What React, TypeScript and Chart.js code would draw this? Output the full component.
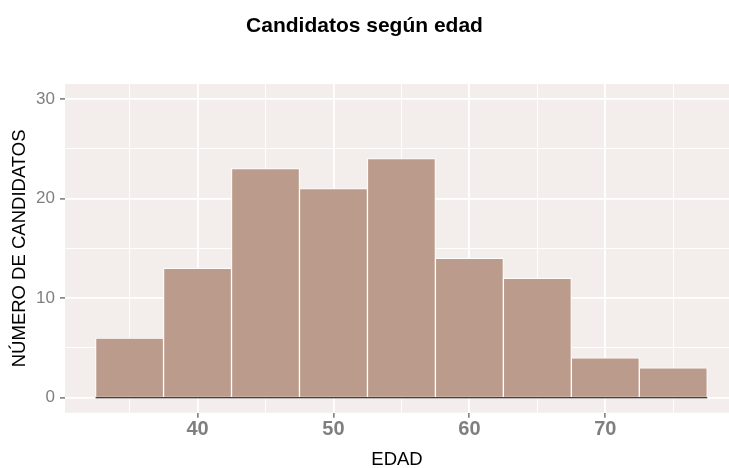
import React, { useEffect, useRef } from "react";
import { Chart, registerables } from "chart.js";

Chart.register(...registerables);

// Histogram data: bin centers (EDAD) and counts
const binCenters = [35, 40, 45, 50, 55, 60, 65, 70, 75];
const counts = [6, 13, 23, 21, 24, 14, 12, 4, 3];
const baseline = [
  { x: 32.5, y: 0 },
  { x: 77.5, y: 0 },
];
const xTicks = [35, 40, 45, 50, 55, 60, 65, 70, 75];
const xMajor = [40, 50, 60, 70];
const yTicks = [0, 5, 10, 15, 20, 25, 30];
const yMajor = [0, 10, 20, 30];

const FONT = "'Liberation Sans', Arial, Helvetica, sans-serif";
const PANEL_BG = "#F3EEEB";
const BAR_FILL = "#BB9B8B";

export default function App() {
  const ref = useRef<HTMLCanvasElement | null>(null);

  useEffect(() => {
    document.body.style.margin = "0";
    const canvas = ref.current;
    if (!canvas) return;

    const panelBg = {
      id: "panelBg",
      beforeDraw(chart: any) {
        const { ctx, chartArea } = chart;
        ctx.save();
        ctx.fillStyle = PANEL_BG;
        ctx.fillRect(chartArea.left, chartArea.top, chartArea.right - chartArea.left, chartArea.bottom - chartArea.top);
        ctx.restore();
      },
    };

    const chart = new Chart(canvas, {
      type: "bar",
      data: {
        datasets: [
          {
            type: "line",
            data: baseline,
            borderColor: "#000000",
            borderWidth: 1.2,
            pointRadius: 0,
            order: 0,
          } as any,
          {
            type: "bar",
            data: binCenters.map((c, i) => ({ x: c, y: counts[i] })),
            backgroundColor: BAR_FILL,
            borderColor: "#FFFFFF",
            borderWidth: 1,
            barPercentage: 1,
            categoryPercentage: 1,
            order: 1,
          } as any,
        ],
      },
      options: {
        animation: false,
        responsive: false,
        layout: { padding: 0 },
        plugins: {
          legend: { display: false },
          tooltip: { enabled: false },
          title: {
            display: true,
            text: "Candidatos según edad",
            color: "#000000",
            font: { family: FONT, size: 21, weight: "bold", lineHeight: 1.2 },
            padding: { top: 13.4, bottom: 45.4 },
          },
        },
        scales: {
          x: {
            type: "linear",
            offset: false,
            min: 30.25,
            max: 79.1,
            afterBuildTicks(scale: any) {
              scale.ticks = xTicks.map((v) => ({ value: v }));
            },
            afterFit(scale: any) {
              scale.height = 55.3;
            },
            border: { display: false },
            grid: {
              offset: false,
              color: "#FFFFFF",
              lineWidth: (c: any) => (xMajor.includes(c.tick?.value) ? 1.8 : 0.9),
              tickColor: (c: any) => (xMajor.includes(c.tick?.value) ? "#555555" : "rgba(0,0,0,0)"),
              tickWidth: 1.2,
              tickLength: 5,
              drawTicks: true,
            },
            ticks: {
              autoSkip: false,
              maxRotation: 0,
              padding: 0,
              color: "#7F7F7F",
              font: { family: FONT, size: 20, weight: "bold" },
              callback: (v: any) => (xMajor.includes(Number(v)) ? String(v) : ""),
            },
            title: {
              display: true,
              text: "EDAD",
              color: "#000000",
              font: { family: FONT, size: 18.5, lineHeight: 1.2 },
              padding: { top: 0, bottom: -3 },
            },
          },
          y: {
            type: "linear",
            min: -1.5,
            max: 31.5,
            afterBuildTicks(scale: any) {
              scale.ticks = yTicks.map((v) => ({ value: v }));
            },
            afterFit(scale: any) {
              scale.width = 65;
            },
            border: { display: false },
            grid: {
              color: "#FFFFFF",
              lineWidth: (c: any) => (yMajor.includes(c.tick?.value) ? 1.8 : 0.9),
              tickColor: (c: any) => (yMajor.includes(c.tick?.value) ? "#555555" : "rgba(0,0,0,0)"),
              tickWidth: 1.2,
              tickLength: 5,
              drawTicks: true,
            },
            ticks: {
              autoSkip: false,
              padding: 5,
              color: "#7F7F7F",
              font: { family: FONT, size: 17 },
              callback: (v: any) => (yMajor.includes(Number(v)) ? String(v) : ""),
            },
            title: {
              display: true,
              text: "NÚMERO DE CANDIDATOS",
              color: "#000000",
              font: { family: FONT, size: 18.5, lineHeight: 1.2 },
              padding: { top: 9, bottom: 0 },
            },
          },
        },
      },
      plugins: [panelBg],
    } as any);

    return () => {
      chart.destroy();
    };
  }, []);

  return (
    <div style={{ width: 729, height: 468 }}>
      <canvas ref={ref} width={729} height={468} style={{ display: "block" }} />
    </div>
  );
}
